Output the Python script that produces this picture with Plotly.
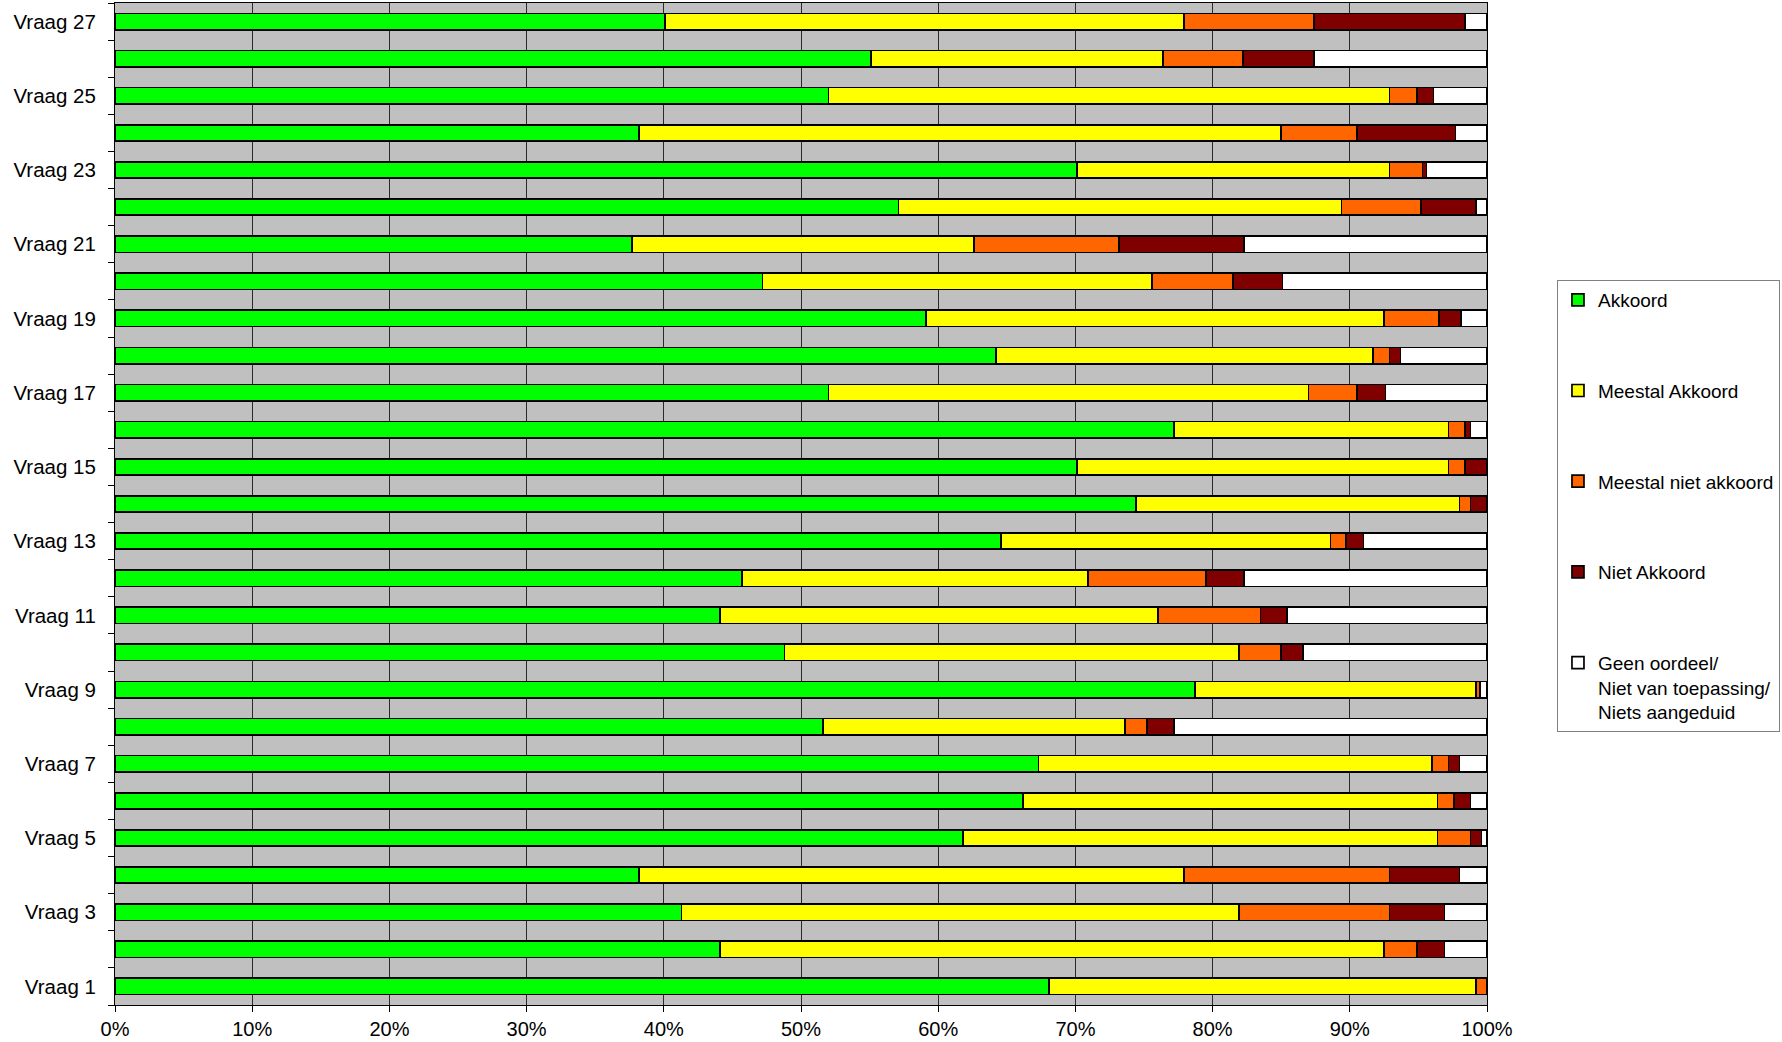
import plotly.graph_objects as go

questions = [f"Vraag {i}" for i in range(1, 28)]
tick_text = [q if (i % 2 == 1) else "" for i, q in zip(range(1, 28), questions)]

akkoord = [68.1, 44.1, 41.3, 38.2, 61.8, 66.2, 67.3, 51.6, 78.7, 48.8, 44.1, 45.7, 64.6, 74.4,
           70.1, 77.2, 52.0, 64.2, 59.1, 47.2, 37.7, 57.1, 70.1, 38.2, 52.0, 55.1, 40.1]
meestal_akkoord = [31.1, 48.4, 40.6, 39.7, 34.6, 30.2, 28.7, 22.0, 20.5, 33.1, 31.9, 25.2, 24.0, 23.6,
                   27.1, 20.0, 35.0, 27.5, 33.4, 28.4, 24.9, 32.3, 22.8, 46.8, 40.9, 21.3, 37.8]
meestal_niet = [0.8, 2.4, 11.0, 15.0, 2.4, 1.2, 1.2, 1.6, 0.3, 3.1, 7.5, 8.6, 1.1, 0.8,
                1.2, 1.2, 3.5, 1.2, 4.0, 5.9, 10.6, 5.8, 2.4, 5.5, 2.0, 5.8, 9.5]
niet_akkoord = [0.0, 2.0, 4.0, 5.1, 0.8, 1.2, 0.8, 2.0, 0.0, 1.6, 1.9, 2.8, 1.3, 1.2,
                1.6, 0.4, 2.1, 0.8, 1.6, 3.6, 9.1, 4.0, 0.3, 7.2, 1.2, 5.2, 11.0]
geen_oordeel = [0.0, 3.1, 3.1, 2.0, 0.4, 1.2, 2.0, 22.8, 0.5, 13.4, 14.6, 17.7, 9.0, 0.0,
                0.0, 1.2, 7.4, 6.3, 1.9, 14.9, 17.7, 0.8, 4.4, 2.3, 3.9, 12.6, 1.6]

series = [
    ("Akkoord", akkoord, "#00FF00"),
    ("Meestal Akkoord", meestal_akkoord, "#FFFF00"),
    ("Meestal niet akkoord", meestal_niet, "#FF6600"),
    ("Niet Akkoord", niet_akkoord, "#800000"),
    ("Geen oordeel/<br>Niet van toepassing/<br>Niets aangeduid", geen_oordeel, "#FFFFFF"),
]

FONT = "Arial, Liberation Sans, sans-serif"

fig = go.Figure()
for i, (name, vals, color) in enumerate(series):
    fig.add_trace(go.Bar(
        y=questions, x=vals, name=name, orientation="h",
        marker=dict(color=color, line=dict(color="#000000", width=1.7)),
        legendgroup=f"g{i}",
    ))

fig.update_layout(
    width=1782, height=1042,
    barmode="stack", bargap=0.56,
    paper_bgcolor="#FFFFFF", plot_bgcolor="#C0C0C0",
    margin=dict(l=115, r=295, t=3, b=37, autoexpand=False),
    font=dict(family=FONT, size=20, color="#000000"),
    showlegend=True,
    legend=dict(
        x=1.051, xanchor="left", y=0.7236, yanchor="top",
        bgcolor="#FFFFFF", bordercolor="#808080", borderwidth=1,
        font=dict(family=FONT, size=19, color="#000000"),
        traceorder="grouped", tracegroupgap=63, valign="top",
        itemclick=False,
    ),
    xaxis=dict(
        range=[0, 100], dtick=10, ticksuffix="%",
        showgrid=True, gridcolor="#2a2a2a", gridwidth=1,
        showline=True, linecolor="#000000", linewidth=1, mirror=True,
        ticks="outside", ticklen=6, tickcolor="#000000",
        zeroline=False, fixedrange=True, automargin=False,
        tickfont=dict(family=FONT, size=20),
    ),
    yaxis=dict(
        type="category", categoryorder="array", categoryarray=questions,
        tickmode="array", tickvals=questions, ticktext=tick_text,
        tickson="boundaries", ticks="outside", ticklen=6, tickcolor="#000000",
        showline=True, linecolor="#000000", linewidth=1, mirror=True,
        showgrid=False, ticklabelstandoff=14, automargin=False,
        tickfont=dict(family=FONT, size=20.5), fixedrange=True,
    ),
)

fig.write_html(
    "out.html",
    config={"displayModeBar": False},
    post_script="document.body.style.margin='0';document.body.style.overflow='hidden';",
)
